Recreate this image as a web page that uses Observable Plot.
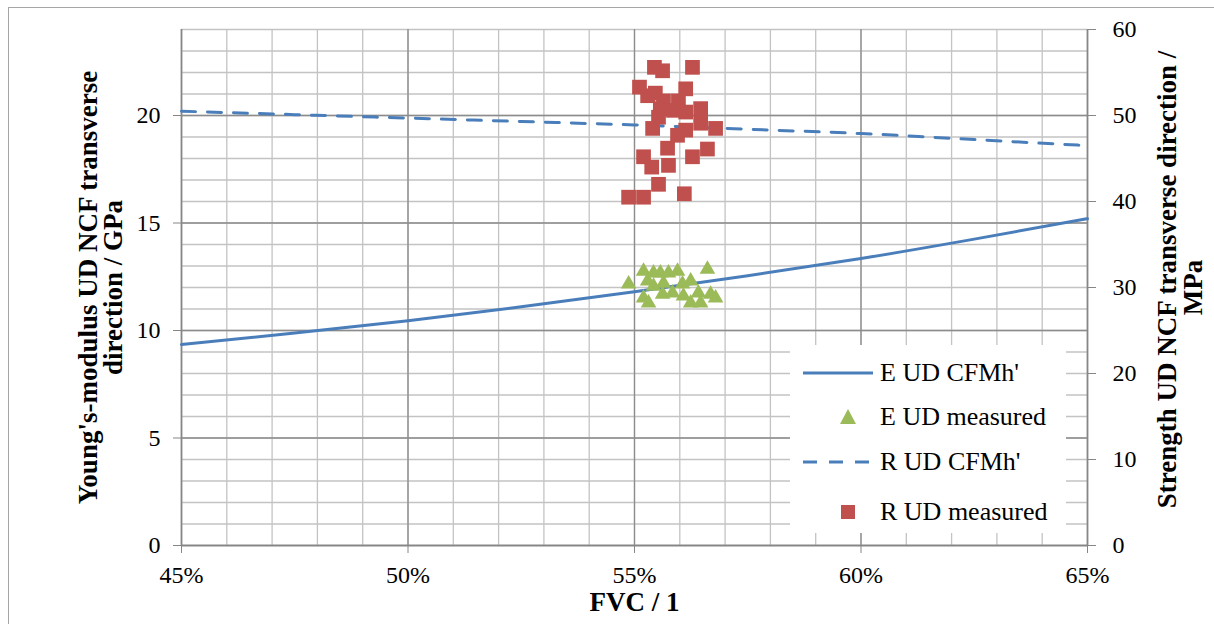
<!DOCTYPE html>
<html><head><meta charset="utf-8">
<script src="https://cdn.jsdelivr.net/npm/d3@7"></script>
<script src="https://cdn.jsdelivr.net/npm/@observablehq/plot@0.6"></script>
<style>
html,body{margin:0;padding:0;background:#fff;overflow:hidden;}
#wrap{position:relative;width:1214px;height:624px;font-family:"Liberation Serif","Times New Roman",serif;}
#border{position:absolute;left:8px;top:7px;width:1300px;height:700px;border:1.5px solid #a6a6a6;box-sizing:border-box;}
#chart{position:absolute;left:0;top:0;}
#legend{position:absolute;left:790px;top:345px;width:276px;height:188px;background:#fff;font-size:26px;color:#000;}
.row{position:absolute;left:0;height:40px;width:276px;}
.row svg{position:absolute;left:10px;top:0;}
.row span{position:absolute;left:90px;top:4px;white-space:nowrap;line-height:32px;}
</style></head>
<body><div id="wrap"><div id="border"></div><div id="chart"></div><div id="legend"></div></div>
<script>
// ---- data ----
const curveFvc = [0.45, 0.475, 0.50, 0.525, 0.55, 0.575, 0.60, 0.625, 0.65];
const eCurveGPa = [9.35, 9.88, 10.45, 11.1, 11.8, 12.55, 13.35, 14.25, 15.2];
const rCurveMPa = [50.5, 50.1, 49.7, 49.3, 48.9, 48.4, 47.9, 47.2, 46.5];

const eMeasFvc = [0.5487, 0.5520, 0.5542, 0.5557, 0.5575, 0.5595, 0.5661, 0.5529, 0.5542, 0.5564, 0.5606, 0.5624, 0.5520, 0.5562, 0.5584, 0.5608, 0.5641, 0.5668, 0.5531, 0.5624, 0.5646, 0.5679];
const eMeasGPa = [12.16, 12.76, 12.67, 12.67, 12.67, 12.76, 12.85, 12.30, 12.06, 12.20, 12.16, 12.30, 11.51, 11.69, 11.74, 11.60, 11.74, 11.69, 11.28, 11.28, 11.28, 11.51];

const rMeasFvc = [0.5544, 0.5562, 0.5628, 0.5511, 0.5529, 0.5546, 0.5564, 0.5613, 0.5597, 0.5557, 0.5553, 0.5586, 0.5613, 0.5646, 0.5540, 0.5613, 0.5646, 0.5679, 0.5595, 0.5573, 0.5520, 0.5628, 0.5661, 0.5538, 0.5575, 0.5553, 0.5610, 0.5487, 0.5520];
const rMeasMPa = [55.6, 55.2, 55.6, 53.3, 52.3, 52.6, 51.7, 53.1, 51.7, 50.8, 49.8, 50.6, 50.4, 50.8, 48.5, 48.3, 49.1, 48.5, 47.7, 46.2, 45.2, 45.2, 46.1, 44.0, 44.2, 42.0, 40.9, 40.5, 40.5];

const xTicks = [0.45, 0.50, 0.55, 0.60, 0.65];
const leftTicks = [0, 5, 10, 15, 20];
const rightTicks = [0, 10, 20, 30, 40, 50, 60];
const xMinor = [0.45,0.46,0.47,0.48,0.49,0.50,0.51,0.52,0.53,0.54,0.55,0.56,0.57,0.58,0.59,0.60,0.61,0.62,0.63,0.64,0.65];
const yMinor = [0,1,2,3,4,5,6,7,8,9,10,11,12,13,14,15,16,17,18,19,20,21,22,23,24];
const labels = {
  left1: "Young's-modulus UD NCF transverse", left2: "direction / GPa",
  right1: "Strength UD NCF transverse direction /", right2: "MPa",
  x: "FVC / 1",
  series: ["E UD CFMh'", "E UD measured", "R UD CFMh'", "R UD measured"]
};
const RATIO = 24 / 60; // right axis (MPa) → left axis (GPa) units

const BLUE = "#4A7EBB", GREEN = "#9BBB59", RED = "#C0504D";

const eCurve = curveFvc.map((x, i) => ({x, y: eCurveGPa[i]}));
const rCurve = curveFvc.map((x, i) => ({x, y: rCurveMPa[i] * RATIO}));
const eMeas = eMeasFvc.map((x, i) => ({x, y: eMeasGPa[i]}));
const rMeas = rMeasFvc.map((x, i) => ({x, y: rMeasMPa[i] * RATIO}));

const titleOpts = {rotate: -90, textAnchor: "middle", fontSize: 27, fontWeight: "bold", fill: "#000"};

const chart = Plot.plot({
  width: 1214, height: 624,
  marginLeft: 181, marginRight: 127, marginTop: 29, marginBottom: 79,
  style: {fontFamily: "'Liberation Serif','Times New Roman',serif", fontSize: "24px", background: "transparent", overflow: "visible"},
  x: {domain: [0.45, 0.65]},
  y: {domain: [0, 24]},
  marks: [
    Plot.gridX(xMinor, {stroke: "#c3c3c3", strokeOpacity: 1, strokeWidth: 1.3}),
    Plot.gridY(yMinor, {stroke: "#c3c3c3", strokeOpacity: 1, strokeWidth: 1.3}),
    Plot.gridX(xTicks, {stroke: "#8c8c8c", strokeOpacity: 1, strokeWidth: 1.3}),
    Plot.gridY(leftTicks, {stroke: "#8c8c8c", strokeOpacity: 1, strokeWidth: 1.3}),
    Plot.ruleY([0], {stroke: "#868686", strokeWidth: 1.5}),
    Plot.ruleX([0.45], {stroke: "#868686", strokeWidth: 1.5}),
    Plot.ruleX([0.65], {stroke: "#868686", strokeWidth: 1.5}),
    Plot.axisX(xTicks, {tickFormat: d => Math.round(d * 100) + "%", tickSize: 8, tickPadding: 12, fontSize: 24, stroke: "#868686", fill: "#000", label: null}),
    Plot.axisY(leftTicks, {anchor: "left", tickSize: 8, tickPadding: 13, fontSize: 24, stroke: "#868686", fill: "#000", label: null}),
    Plot.axisY(rightTicks.map(v => v * RATIO), {anchor: "right", tickFormat: d => String(Math.round(d / RATIO)), tickSize: 8, tickPadding: 17, fontSize: 24, stroke: "#868686", fill: "#000", label: null}),
    Plot.line(eCurve, {x: "x", y: "y", curve: "natural", stroke: BLUE, strokeWidth: 3}),
    Plot.dot(eMeas, {x: "x", y: "y", symbol: "triangle", r: 5.8, fill: GREEN, stroke: "none"}),
    Plot.line(rCurve, {x: "x", y: "y", curve: "natural", stroke: BLUE, strokeWidth: 3, strokeDasharray: "14,12"}),
    Plot.dot(rMeas, {x: "x", y: "y", symbol: "square", r: 8.3, fill: RED, stroke: "none"}),
    Plot.text([labels.left1], {...titleOpts, frameAnchor: "left", dx: -93}),
    Plot.text([labels.left2], {...titleOpts, frameAnchor: "left", dx: -68}),
    Plot.text([labels.right1], {...titleOpts, frameAnchor: "right", dx: 80, dy: -8}),
    Plot.text([labels.right2], {...titleOpts, frameAnchor: "right", dx: 106}),
    Plot.text([labels.x], {frameAnchor: "bottom", textAnchor: "middle", dy: 65, fontSize: 27, fontWeight: "bold", fill: "#000"})
  ]
});
document.getElementById("chart").appendChild(chart);

// legend
const legend = document.getElementById("legend");
const rowsY = [8, 52, 97, 147];
const samples = [
  `<svg width="80" height="40"><line x1="3" y1="20" x2="73" y2="20" stroke="${BLUE}" stroke-width="3"/></svg>`,
  `<svg width="80" height="40"><path d="M48,12 L56,27 L40,27 Z" fill="${GREEN}"/></svg>`,
  `<svg width="80" height="40"><line x1="3" y1="20" x2="73" y2="20" stroke="${BLUE}" stroke-width="3" stroke-dasharray="14,12"/></svg>`,
  `<svg width="80" height="40"><rect x="41" y="13" width="14" height="14" fill="${RED}"/></svg>`
];
labels.series.forEach((s, i) => {
  const d = document.createElement("div");
  d.className = "row";
  d.style.top = rowsY[i] + "px";
  d.innerHTML = samples[i] + `<span>${s}</span>`;
  legend.appendChild(d);
});
</script>
</body></html>
